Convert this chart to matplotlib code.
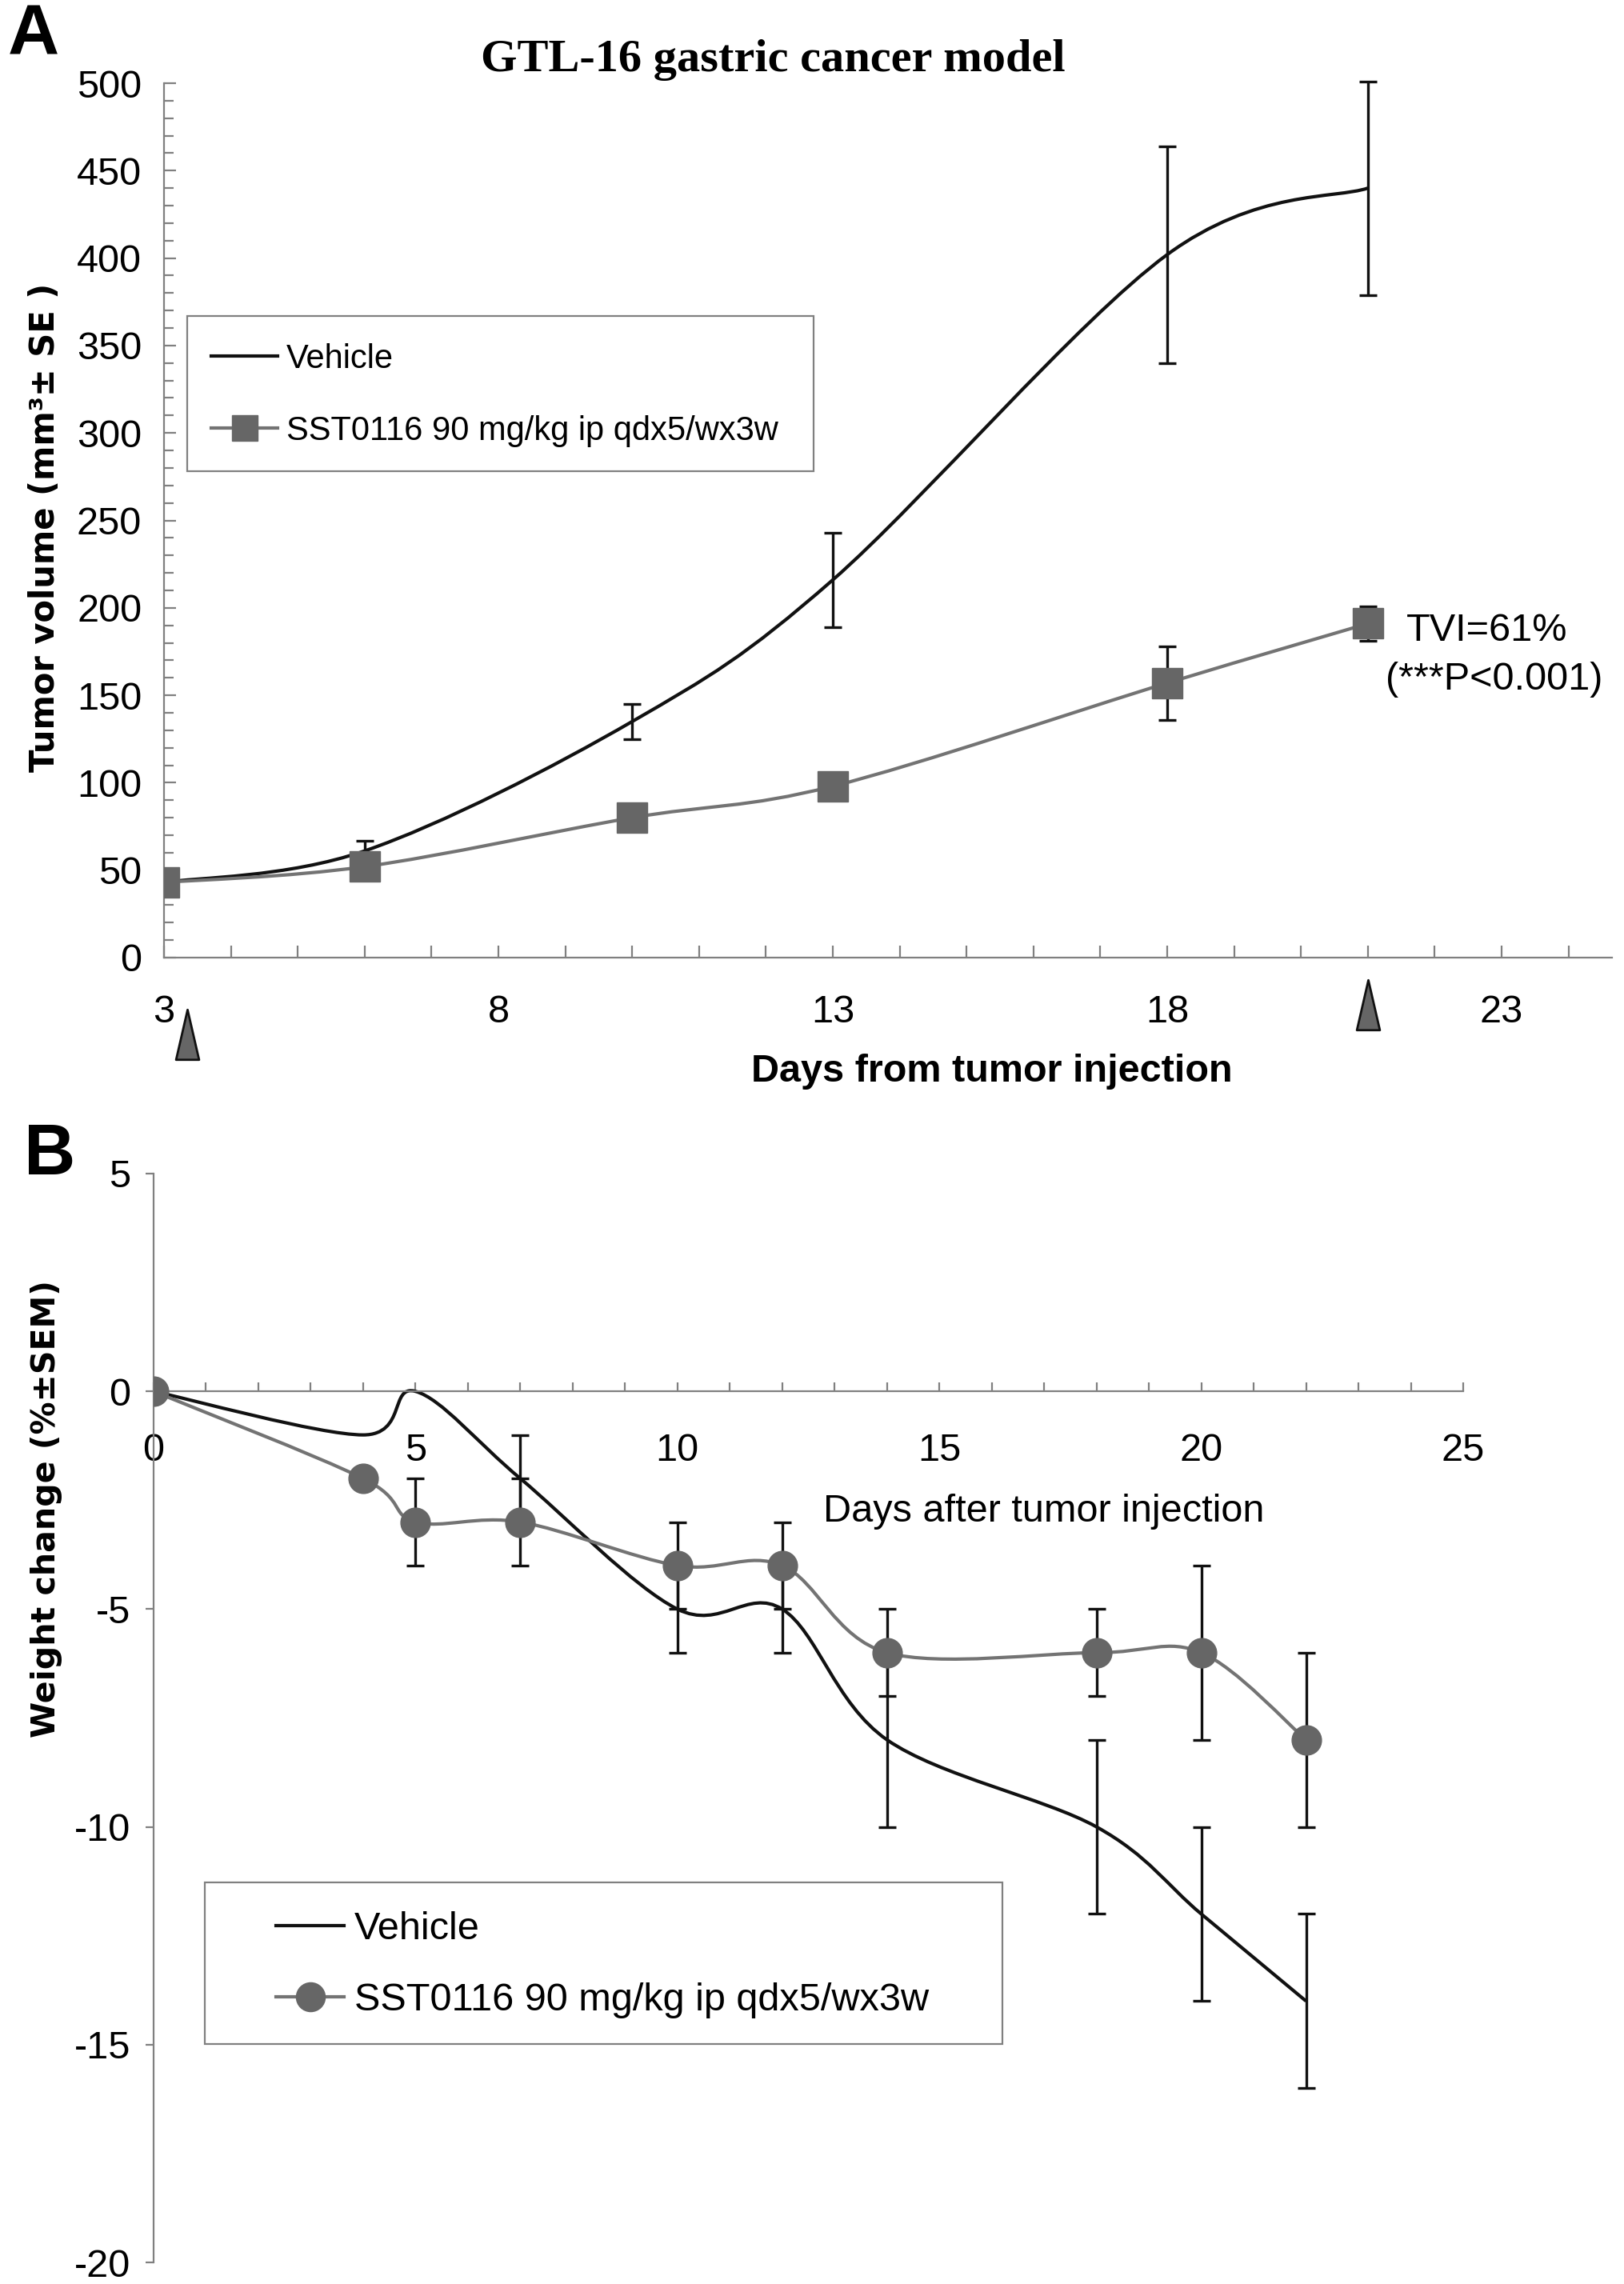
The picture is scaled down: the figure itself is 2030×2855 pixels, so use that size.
import numpy as np
import matplotlib

matplotlib.use("Agg")
import matplotlib.pyplot as plt
from matplotlib.lines import Line2D
from matplotlib.patches import PathPatch, Rectangle
from matplotlib.path import Path
from matplotlib.ticker import MultipleLocator
from matplotlib.transforms import blended_transform_factory

plt.rcParams["axes.unicode_minus"] = False

# panel A: tumor volume (mm3 +/- SE)
days_a = [3, 6, 10, 13, 18, 21]
vehicle_a = [43, 61, 135, 216, 402, 440]
vehicle_a_err = [0, 6, 10, 27, 62, 61]
sst_a = [43, 52, 80, 98, 157, 191]
sst_a_err = [0, 0, 0, 0, 21, 10]
ticks_a = [3, 8, 13, 18, 23]
dose_days = [3.35, 21]

# panel B: weight change (% +/- SEM)
days_b = [0, 4, 5, 7, 10, 12, 14, 18, 20, 22]
vehicle_b = [0, -1, 0, -2, -5, -5, -8, -10, -12, -14]
vehicle_b_err = [0, 0, 0, 1, 1, 1, 2, 2, 2, 2]
sst_b = [0, -2, -3, -3, -4, -4, -6, -6, -6, -8]
sst_b_err = [0, 0, 1, 1, 1, 1, 1, 1, 2, 2]

label_vehicle = "Vehicle"
label_sst = "SST0116 90 mg/kg ip qdx5/wx3w"

BLACK = "#111111"
GRAY_LINE = "#737373"
GRAY_MARK = "#666666"
AXIS = "#808080"
SANS = ["Liberation Sans", "DejaVu Sans"]

W, H = 2031, 2855


def fx(px):
    return px / W


def fy(py):
    return 1 - py / H


def smooth_curve(ax, x, y, **kw):
    # Excel-style smoothed line: Catmull-Rom segments as cubic Beziers
    pts = np.column_stack([x, y]).astype(float)
    last = len(pts) - 1
    verts = [pts[0]]
    codes = [Path.MOVETO]
    for i in range(last):
        p0, p1 = pts[max(i - 1, 0)], pts[i]
        p2, p3 = pts[i + 1], pts[min(i + 2, last)]
        verts += [p1 + (p2 - p0) / 6, p2 - (p3 - p1) / 6, p2]
        codes += [Path.CURVE4] * 3
    ax.add_patch(PathPatch(Path(verts, codes), fill=False, **kw))


def error_bars(ax, x, y, err):
    keep = [i for i, e in enumerate(err) if e > 0]
    bars = ax.errorbar([x[i] for i in keep], [y[i] for i in keep],
                       yerr=[err[i] for i in keep], fmt="none", ecolor=BLACK,
                       elinewidth=2.4, capsize=8, capthick=2.4, zorder=3)
    for art in bars.lines[1] + bars.lines[2]:
        art.set_clip_on(False)


def style_axes(ax):
    for side in ("top", "right"):
        ax.spines[side].set_visible(False)
    for side in ("left", "bottom"):
        ax.spines[side].set_color(AXIS)
        ax.spines[side].set_linewidth(1.6)
    for lab in ax.get_xticklabels() + ax.get_yticklabels():
        lab.set_family(SANS)
        lab.set_fontsize(35)


def legend_box(fig, handles, labels, x0, y0, x1, y1, handle_x, center_y, size, hlen, hpad, lspace):
    fig.patches.append(Rectangle((fx(x0), fy(y1)), fx(x1 - x0), (y1 - y0) / H,
                                 transform=fig.transFigure, fill=False,
                                 edgecolor=AXIS, linewidth=1.6))
    fig.legend(handles, labels, loc="center left",
               bbox_to_anchor=(fx(handle_x), fy(center_y)),
               frameon=False, borderpad=0, borderaxespad=0,
               prop={"family": SANS, "size": size},
               handlelength=hlen, handletextpad=hpad, labelspacing=lspace)


fig = plt.figure(figsize=(W / 100, H / 100), dpi=100)

# ---------------- panel A ----------------
ax_a = fig.add_axes([fx(205), fy(1197), fx(1810), 1093 / H])
ax_a.set_xlim(3, 24.65)
ax_a.set_ylim(0, 500)
ax_a.set_xticks(ticks_a)
ax_a.xaxis.set_minor_locator(MultipleLocator(1))
ax_a.yaxis.set_major_locator(MultipleLocator(50))
ax_a.yaxis.set_minor_locator(MultipleLocator(10))
ax_a.tick_params(axis="both", which="both", direction="in", color=AXIS, width=1.6)
ax_a.tick_params(axis="x", which="both", length=11, pad=33)
ax_a.tick_params(axis="y", which="major", length=11, pad=20)
ax_a.tick_params(axis="y", which="minor", length=8.5)
style_axes(ax_a)

smooth_curve(ax_a, days_a, vehicle_a, edgecolor=BLACK, linewidth=3, zorder=2)
smooth_curve(ax_a, days_a, sst_a, edgecolor=GRAY_LINE, linewidth=3, zorder=2)
error_bars(ax_a, days_a, vehicle_a, vehicle_a_err)
error_bars(ax_a, days_a, sst_a, sst_a_err)
ax_a.plot(days_a, sst_a, linestyle="none", marker="s", markersize=28,
          markerfacecolor=GRAY_MARK, markeredgecolor=GRAY_MARK, zorder=4)

# dosing arrowheads under the x axis
tri = Path([(-0.23, -0.5), (0.23, -0.5), (0, 0.5), (-0.23, -0.5)],
           [Path.MOVETO, Path.LINETO, Path.LINETO, Path.CLOSEPOLY])
tr = blended_transform_factory(ax_a.transData, ax_a.transAxes)
for d, yoff in zip(dose_days, [-0.088, -0.054]):
    ax_a.plot([d], [yoff], transform=tr, marker=tri, markersize=45,
              markerfacecolor=GRAY_MARK, markeredgecolor=BLACK,
              markeredgewidth=2, linestyle="none", clip_on=False)

ax_a.text(21.58, 187, "TVI=61%", fontsize=35, family=SANS, ha="left", va="center")
ax_a.text(21.27, 159, "(***P<0.001)", fontsize=35, family=SANS, ha="left", va="center")

fig.text(fx(966), fy(75), "GTL-16 gastric cancer model", family="Liberation Serif",
         fontweight="bold", fontsize=42, ha="center", va="center")
fig.text(fx(1240), fy(1339), "Days from tumor injection", family=SANS,
         fontweight="bold", fontsize=35, ha="center", va="center")
fig.text(fx(56), fy(659), "Tumor volume (mm³± SE )", family="DejaVu Sans",
         fontweight="bold", fontsize=30, rotation=90, ha="center", va="center")
fig.text(fx(42), fy(46), "A", family=SANS, fontweight="bold", fontsize=64,
         ha="center", va="center")

handles_a = [
    Line2D([], [], color=BLACK, linewidth=3),
    Line2D([], [], color=GRAY_LINE, linewidth=3, marker="s", markersize=23,
           markerfacecolor=GRAY_MARK, markeredgecolor=GRAY_MARK),
]
legend_box(fig, handles_a, [label_vehicle, label_sst], 234, 395, 1017, 589,
           264, 494, 30, 2.0, 0.25, 1.2)

# ---------------- panel B ----------------
ax_b = fig.add_axes([fx(192), fy(2828), fx(1637), 1361 / H])
ax_b.set_xlim(0, 25)
ax_b.set_ylim(-20, 5)
ax_b.spines["bottom"].set_position(("data", 0))
ax_b.xaxis.set_major_locator(MultipleLocator(5))
ax_b.xaxis.set_minor_locator(MultipleLocator(1))
ax_b.yaxis.set_major_locator(MultipleLocator(5))
ax_b.tick_params(axis="x", which="both", direction="in", length=8, color=AXIS,
                 width=1.6, pad=37)
ax_b.tick_params(axis="y", which="major", direction="out", length=7, color=AXIS,
                 width=1.6, pad=14)
style_axes(ax_b)

smooth_curve(ax_b, days_b, vehicle_b, edgecolor=BLACK, linewidth=3, zorder=2)
smooth_curve(ax_b, days_b, sst_b, edgecolor=GRAY_LINE, linewidth=3, zorder=2)
error_bars(ax_b, days_b, vehicle_b, vehicle_b_err)
error_bars(ax_b, days_b, sst_b, sst_b_err)
ax_b.plot(days_b, sst_b, linestyle="none", marker="o", markersize=26.5,
          markerfacecolor=GRAY_MARK, markeredgecolor=GRAY_MARK, zorder=4)

fig.text(fx(1305), fy(1890), "Days after tumor injection", family=SANS,
         fontsize=35, ha="center", va="center")
fig.text(fx(58), fy(1886), "Weight change (%±SEM)", family="DejaVu Sans",
         fontweight="bold", fontsize=29.5, rotation=90, ha="center", va="center")
fig.text(fx(62), fy(1445), "B", family=SANS, fontweight="bold", fontsize=64,
         ha="center", va="center")

handles_b = [
    Line2D([], [], color=BLACK, linewidth=3),
    Line2D([], [], color=GRAY_LINE, linewidth=3, marker="o", markersize=26,
           markerfacecolor=GRAY_MARK, markeredgecolor=GRAY_MARK),
]
legend_box(fig, handles_b, [label_vehicle, label_sst], 256, 2353, 1253, 2555,
           345, 2456, 35, 1.75, 0.27, 0.9)

fig.savefig("out.png", dpi=100, facecolor="white")
plt.close(fig)
